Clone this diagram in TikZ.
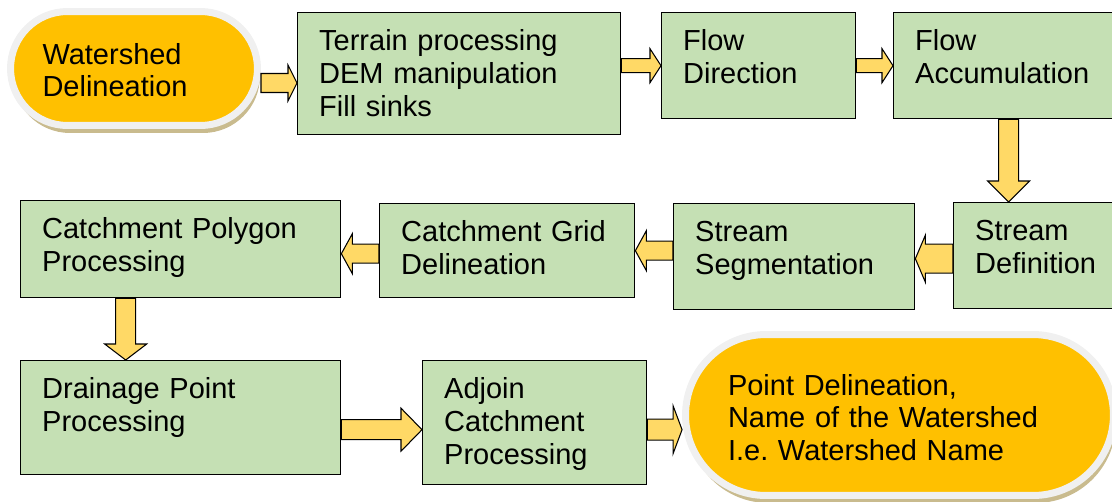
\documentclass[tikz,border=0pt]{standalone}
\usepackage{fontspec}
\setmainfont{Liberation Sans}
\usetikzlibrary{calc,shadows}

\definecolor{stagegreen}{HTML}{C5E0B4}
\definecolor{pillorange}{HTML}{FFC000}
\definecolor{pillrim}{HTML}{F0F0F0}
\definecolor{pilltan}{HTML}{C9BB8E}
\definecolor{arrowgold}{HTML}{FFD966}

\newcommand{\stagefont}{\fontsize{16.5}{18.7}\selectfont}

% block arrow: shaft half width, head half width, head length, start, end
\newcommand{\blockarrow}[5]{%
	\coordinate (ba-s) at (#4);
	\coordinate (ba-e) at (#5);
	\coordinate (ba-q) at ($(ba-e)!#3!(ba-s)$);
	\draw[flowarrow] ($(ba-s)!#1!90:(ba-e)$) -- ($(ba-q)!#1!90:(ba-e)$)
		-- ($(ba-q)!#2!90:(ba-e)$) -- (ba-e) -- ($(ba-q)!#2!-90:(ba-e)$)
		-- ($(ba-q)!#1!-90:(ba-e)$) -- ($(ba-s)!#1!-90:(ba-e)$) -- cycle;
}

\tikzset{
	stage/.style={draw=black, line width=0.8pt, fill=stagegreen, anchor=north west,
		align=left, inner xsep=0.43cm, inner ysep=0pt, text height=0.76cm, font=\stagefont},
	pill/.style={draw=pillrim, line width=0.14cm, fill=pillorange, align=left,
		inner ysep=0pt, font=\stagefont, drop shadow={shadow xshift=0.05cm,
		shadow yshift=-0.15cm, fill=pilltan, opacity=1}},
	flowarrow/.style={draw=black, line width=0.6pt, fill=arrowgold, line join=miter},
}

\begin{document}
\frenchspacing
\begin{tikzpicture}[x=0.02cm, y=-0.02cm]
	% page frame
	\useasboundingbox (0,0) rectangle (1112,501);
	\clip (0,0) rectangle (1112,501);
	
	% start and end of the chain
	\node[pill, minimum width=4.94cm, minimum height=2.28cm, rounded corners=1.14cm,
		inner xsep=0.64cm, text width=3.66cm, text height=1.05cm, text depth=1.23cm] (wd)
		at (134,68.5) {Watershed\\Delineation};
	\node[pill, minimum width=8.56cm, minimum height=3.22cm, rounded corners=1.61cm,
		inner xsep=0.85cm, text width=6.86cm, text height=1.21cm, text depth=2.01cm] (point)
		at (899.5,415) {Point Delineation,\\Name of the Watershed\\I.e. Watershed Name};
	
	% first row
	\node[stage, minimum width=6.46cm, text width=5.60cm, text depth=1.68cm] (terrain) at (297,12)
		{Terrain processing\\DEM manipulation\\Fill sinks};
	\node[stage, minimum width=3.88cm, text width=3.02cm, text depth=1.36cm] (flowdir) at (661,12)
		{Flow\\Direction};
	\node[stage, minimum width=4.60cm, text width=3.74cm, text depth=1.36cm] (flowacc) at (893,12)
		{Flow\\Accumulation};
	
	% second row
	\node[stage, minimum width=3.60cm, text width=2.74cm, text depth=1.36cm] (streamdef) at (953,202)
		{Stream\\Definition};
	\node[stage, minimum width=4.82cm, text width=3.96cm, text depth=1.36cm] (streamseg) at (673,203)
		{Stream\\Segmentation};
	\node[stage, minimum width=5.10cm, text width=4.24cm, text depth=1.12cm] (catchgrid) at (379,203)
		{Catchment Grid\\Delineation};
	\node[stage, minimum width=6.40cm, text width=5.54cm, text depth=1.18cm] (catchpoly) at (20,200)
		{Catchment Polygon\\Processing};
	
	% third row
	\node[stage, minimum width=6.40cm, text width=5.54cm, text depth=1.52cm] (drainage) at (20,360)
		{Drainage Point\\Processing};
	\node[stage, minimum width=4.48cm, text width=3.62cm, text depth=1.72cm] (adjoin) at (422,360)
		{Adjoin\\Catchment\\Processing};
	
	% arrows between the steps
	\blockarrow{0.19cm}{0.36cm}{0.18cm}{[yshift=-0.29cm]wd.east}{ba-s -| terrain.west}
	\blockarrow{0.14cm}{0.34cm}{0.22cm}{terrain.east |- flowdir.east}{flowdir.west}
	\blockarrow{0.14cm}{0.34cm}{0.22cm}{flowdir.east}{flowdir.east -| flowacc.west}
	\blockarrow{0.20cm}{0.42cm}{0.42cm}{flowacc.south}{ba-s |- streamdef.north}
	\blockarrow{0.29cm}{0.47cm}{0.20cm}{[yshift=-0.06cm]streamdef.west}{ba-s -| streamseg.east}
	\blockarrow{0.19cm}{0.40cm}{0.22cm}{streamseg.west |- catchgrid.east}{ba-s -| catchgrid.east}
	\blockarrow{0.19cm}{0.40cm}{0.22cm}{[yshift=-0.06cm]catchgrid.west}{ba-s -| catchpoly.east}
	\blockarrow{0.20cm}{0.42cm}{0.32cm}{[xshift=-1.1cm]catchpoly.south}{ba-s |- drainage.north}
	\blockarrow{0.20cm}{0.43cm}{0.42cm}{[yshift=-0.24cm]drainage.east}{ba-s -| adjoin.west}
	\blockarrow{0.21cm}{0.48cm}{0.18cm}{[yshift=-0.14cm]adjoin.east}{ba-s -| point.west}
\end{tikzpicture}
\end{document}
